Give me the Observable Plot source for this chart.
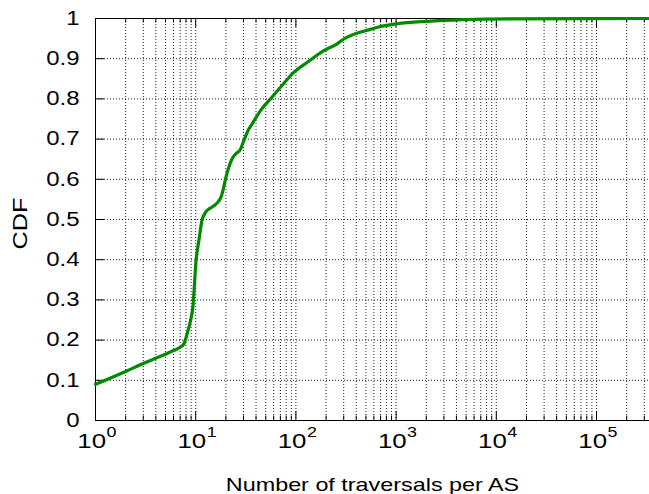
<!DOCTYPE html>
<html>
<head>
<meta charset="utf-8">
<script src="https://cdn.jsdelivr.net/npm/d3@7"></script>
<script src="https://cdn.jsdelivr.net/npm/@observablehq/plot@0.6"></script>
<style>
  html, body { margin: 0; padding: 0; background: #fff; }
  svg { display: block; }
</style>
</head>
<body>
<script>
// CDF curve (x = traversals per AS, y = CDF)
const traversals = [1, 2, 3, 4, 5, 6, 7, 7.6, 8.2, 8.87, 9.36, 10.1, 10.8, 11.6, 12.05, 12.7, 13.7, 15.2, 16.9, 17.7, 18.7, 19.8, 21.4, 23.1, 25.0, 28.0, 30.2, 33.9, 36.6, 44.3, 55.8, 70.2, 95.3, 130, 190, 258, 301, 394, 555, 699, 1025, 2044, 4740, 13870, 338000];
const cdf        = [0.090, 0.122, 0.142, 0.155, 0.165, 0.174, 0.182, 0.190, 0.215, 0.248, 0.281, 0.400, 0.450, 0.500, 0.510, 0.520, 0.527, 0.534, 0.545, 0.553, 0.572, 0.600, 0.630, 0.651, 0.663, 0.675, 0.696, 0.725, 0.738, 0.771, 0.800, 0.829, 0.866, 0.891, 0.920, 0.937, 0.949, 0.962, 0.973, 0.980, 0.987, 0.993, 0.997, 0.999, 1.000];

// Axis ticks / labels
const xDecades   = [1, 10, 100, 1000, 10000, 100000];
const xExponents = ["0", "1", "2", "3", "4", "5"];
const xMinor     = [2, 3, 4, 5, 6, 7, 8, 9, 20, 30, 40, 50, 60, 70, 80, 90, 200, 300, 400, 500, 600, 700, 800, 900, 2000, 3000, 4000, 5000, 6000, 7000, 8000, 9000, 20000, 30000, 40000, 50000, 60000, 70000, 80000, 90000, 200000, 300000];
const yTicks     = [0, 0.1, 0.2, 0.3, 0.4, 0.5, 0.6, 0.7, 0.8, 0.9, 1];
const yLabel = "CDF";
const xLabel = "Number of traversals per AS";

const data = traversals.map((t, i) => ({t, c: cdf[i]}));
const xGrid = [...xDecades.slice(1), ...xMinor];
const yGrid = yTicks.slice(1, -1);

const W = 649, H = 494, mL = 95, mR = 0, mT = 18, mB = 74;
const frameW = W - mL - mR, frameH = H - mT - mB;
const green = "#008a00";
const ink = {fill: "#000"};

const svg = Plot.plot({
  width: W, height: H,
  marginLeft: mL, marginRight: mR, marginTop: mT, marginBottom: mB,
  style: {fontFamily: "'Liberation Sans', Arial, sans-serif", fontSize: "19px", background: "#fff", color: "#000"},
  x: {type: "log", domain: [1, 338000], axis: null},
  y: {domain: [0, 1], axis: null},
  marks: [
    // dotted grid
    Plot.ruleX(xGrid, {x: d => d, stroke: "#222", strokeWidth: 1, strokeDasharray: "1,2"}),
    Plot.ruleY(yGrid, {y: d => d, stroke: "#222", strokeWidth: 1, strokeDasharray: "1,2"}),
    // border (left, bottom, top)
    Plot.ruleX([1], {x: d => d, stroke: "#000"}),
    Plot.ruleY([0, 1], {y: d => d, stroke: "#000"}),
    // inward ticks
    Plot.tickX(xDecades, {x: d => d, insetTop: frameH - 9, stroke: "#000"}),
    Plot.tickX(xDecades, {x: d => d, insetBottom: frameH - 9, stroke: "#000"}),
    Plot.tickX(xMinor, {x: d => d, insetTop: frameH - 4.5, stroke: "#000"}),
    Plot.tickX(xMinor, {x: d => d, insetBottom: frameH - 4.5, stroke: "#000"}),
    Plot.tickY(yTicks, {y: d => d, insetRight: frameW - 9, stroke: "#000"}),
    // the CDF line
    Plot.line(data, {x: "t", y: "c", stroke: green, strokeWidth: 3.2, curve: "monotone-x"}),
    // y tick labels
    Plot.text(yTicks, {y: d => d, text: d => String(d), frameAnchor: "left", textAnchor: "end", dx: -16, fontSize: 19.5, ...ink}),
    // x tick labels: 10^n
    Plot.text(xDecades, {x: d => d, text: () => "10", frameAnchor: "bottom", textAnchor: "end", dx: 10.5, dy: 27.5, fontSize: 21, ...ink}),
    Plot.text(xDecades, {x: d => d, text: (d, i) => xExponents[i], frameAnchor: "bottom", textAnchor: "start", dx: 11, dy: 16, fontSize: 14.5, ...ink}),
    // axis titles
    Plot.text([xLabel], {text: d => d, frameAnchor: "bottom", textAnchor: "middle", lineAnchor: "bottom", dy: 70, fontSize: 19, ...ink}),
    Plot.text([yLabel], {text: d => d, frameAnchor: "left", textAnchor: "middle", rotate: -90, lineAnchor: "bottom", dx: -68.3, dy: 4, fontSize: 20.5, ...ink})
  ]
});

// Reference font is wider than Arial: stretch each label horizontally around its anchor
const S = 1.23;
svg.querySelectorAll("text").forEach(t => {
  const tr = t.getAttribute("transform");
  if (tr) {
    t.setAttribute("transform", tr + ` scale(${S},1)`);
  } else {
    const x = parseFloat(t.getAttribute("x")) || 0;
    const y = parseFloat(t.getAttribute("y")) || 0;
    t.setAttribute("transform", `translate(${x},${y}) scale(${S},1) translate(${-x},${-y})`);
  }
});

document.body.appendChild(svg);
</script>
</body>
</html>
